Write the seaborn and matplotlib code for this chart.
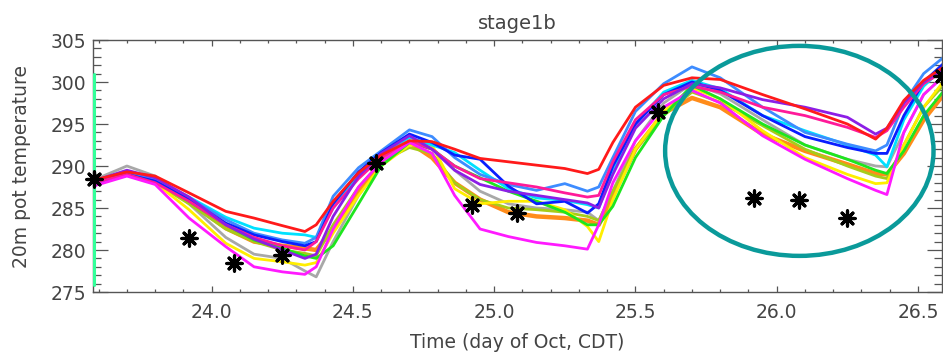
import numpy as np
import pandas as pd
import matplotlib
matplotlib.use("Agg")
import matplotlib.pyplot as plt
from matplotlib.patches import Ellipse
from matplotlib.ticker import MultipleLocator, FormatStrFormatter
from matplotlib.transforms import ScaledTranslation
import seaborn as sns

# ---------------- data ----------------
time = [23.58, 23.70, 23.80, 23.92, 24.05, 24.15, 24.25, 24.33, 24.37, 24.43,
        24.52, 24.60, 24.70, 24.78, 24.86, 24.95, 25.05, 25.15, 25.25, 25.33,
        25.37, 25.42, 25.50, 25.60, 25.70, 25.80, 25.95, 26.10, 26.25, 26.35,
        26.39, 26.45, 26.52, 26.60]

gray = [288.3, 290.0, 288.8, 285.5, 281.5, 279.5, 279.0, 277.5, 276.8, 281.0,
        286.5, 290.2, 293.0, 292.2, 289.5, 287.0, 285.5, 285.0, 284.8, 284.5,
        283.5, 287.0, 293.0, 297.5, 299.8, 298.6, 295.5, 292.5, 290.8, 290.0,
        289.9, 294.0, 298.5, 301.0]
orange = [287.8, 289.0, 288.0, 285.8, 282.6, 281.0, 280.5, 280.2, 280.0, 282.5,
          287.0, 290.5, 292.8, 291.0, 288.0, 286.0, 284.5, 284.0, 283.8, 283.5,
          283.0, 286.5, 292.0, 296.3, 298.1, 297.0, 293.8, 291.8, 290.2, 289.1,
          289.0, 291.5, 295.5, 298.9]
yellowgreen = [287.9, 289.0, 288.0, 285.5, 282.5, 281.0, 280.0, 279.6, 279.3, 283.0,
               287.5, 290.5, 292.2, 291.5, 288.0, 286.0, 285.0, 284.8, 284.5, 284.0,
               283.5, 287.0, 292.0, 296.0, 298.8, 297.6, 294.8, 292.0, 290.0, 288.8,
               288.5, 292.5, 297.0, 300.0]
yellow = [287.8, 289.1, 288.0, 284.8, 280.8, 279.0, 278.6, 278.2, 278.5, 282.0,
          286.5, 290.0, 292.5, 292.5, 287.3, 285.5, 285.8, 285.8, 284.8, 282.8,
          281.0, 286.0, 292.0, 296.5, 299.3, 298.0, 294.2, 291.0, 289.0, 287.9,
          288.0, 292.5, 297.0, 300.5]
green = [287.8, 289.0, 288.2, 285.8, 283.0, 281.2, 280.2, 279.3, 279.0, 280.5,
         285.5, 290.0, 292.8, 292.0, 290.0, 288.6, 287.0, 285.8, 284.5, 283.0,
         283.0, 285.2, 291.0, 296.0, 299.6, 298.0, 295.0, 292.5, 290.8, 289.5,
         289.1, 291.8, 296.0, 299.3]
cyan = [288.0, 289.2, 288.4, 286.3, 283.9, 282.6, 282.0, 281.8, 281.5, 285.0,
        289.0, 291.4, 293.4, 292.5, 291.6, 289.5, 287.3, 286.2, 285.9, 285.4,
        285.0, 289.5, 295.0, 298.8, 300.2, 299.2, 296.0, 294.2, 292.5, 291.3,
        289.9, 295.5, 299.5, 302.0]
dodgerblue = [288.0, 289.3, 288.4, 286.2, 283.6, 282.0, 281.2, 280.8, 281.5, 286.4,
              289.8, 291.8, 294.3, 293.5, 291.0, 289.0, 287.8, 287.1, 287.9, 287.0,
              287.5, 291.0, 296.5, 299.8, 301.8, 300.5, 297.0, 294.0, 292.6, 291.8,
              292.5, 297.5, 301.0, 303.2]
blue = [288.0, 289.0, 288.2, 286.0, 283.2, 281.8, 281.0, 280.5, 281.0, 285.5,
        289.3, 291.6, 293.8, 292.8, 291.3, 290.8, 287.6, 285.5, 285.8, 284.4,
        285.5, 290.0, 295.0, 298.5, 300.0, 299.0, 296.0, 293.5, 292.2, 291.5,
        291.5, 296.0, 300.0, 302.5]
deeppink = [288.0, 289.0, 288.0, 285.8, 283.0, 281.5, 280.5, 280.0, 281.0, 285.0,
            288.5, 291.0, 293.0, 292.0, 290.0, 288.5, 288.0, 287.5, 286.8, 286.3,
            286.5, 290.5, 295.5, 298.5, 299.5, 298.8, 297.0, 296.0, 294.6, 293.4,
            294.2, 297.0, 299.8, 301.5]
magenta = [287.6, 288.8, 287.8, 283.8, 280.4, 278.0, 277.4, 277.1, 278.0, 282.5,
           287.5, 290.5, 292.8, 291.5, 286.5, 282.5, 281.6, 280.9, 280.5, 280.1,
           283.0, 288.0, 293.0, 297.0, 299.0, 297.5, 293.6, 290.8, 288.5, 287.1,
           286.6, 294.0, 298.5, 301.0]
purple = [288.2, 289.5, 288.6, 286.3, 283.0, 281.3, 280.0, 279.0, 279.5, 284.0,
          288.8, 291.5, 293.6, 292.0, 289.5, 287.8, 287.0, 286.5, 286.0, 285.6,
          285.0, 289.0, 294.5, 298.0, 299.8, 299.3, 297.9, 297.0, 295.8, 293.8,
          294.5, 297.5, 300.0, 301.8]
red = [288.3, 289.3, 288.8, 286.8, 284.6, 283.8, 282.9, 282.2, 283.0, 285.8,
       289.2, 291.3, 293.0, 292.9, 292.0, 290.9, 290.5, 290.1, 289.7, 289.1,
       289.6, 292.8, 297.0, 299.6, 300.5, 300.3, 298.5, 296.8, 295.0, 293.2,
       294.5, 297.8, 300.2, 302.0]

members = {
    "gray": gray, "orange": orange, "yellowgreen": yellowgreen, "yellow": yellow,
    "green": green, "cyan": cyan, "dodgerblue": dodgerblue, "blue": blue,
    "deeppink": deeppink, "magenta": magenta, "purple": purple, "red": red,
}
member_colors = {
    "gray": "#a8a8a8", "orange": "#ff8c1a", "yellowgreen": "#a6cc1a", "yellow": "#ffee00",
    "green": "#1ee61e", "cyan": "#00e1ff", "dodgerblue": "#3d8cff", "blue": "#0a1eff",
    "deeppink": "#ff1a99", "magenta": "#ff1aff", "purple": "#8c1ee6", "red": "#ff1a1a",
}

# left-edge green trace
edge_t = [23.583, 23.583]
edge_y = [275.8, 301.0]

# observations
obs_t = [23.585, 23.92, 24.08, 24.25, 24.58, 24.92, 25.08, 25.58, 25.92, 26.08, 26.25, 26.585]
obs_y = [288.5, 281.4, 278.4, 279.4, 290.3, 285.3, 284.4, 296.4, 286.2, 285.9, 283.8, 300.7]

title = "stage1b"
xlabel = "Time (day of Oct, CDT)"
ylabel = "20m pot temperature"

# ---------------- plot ----------------
sns.set_theme(style="white")
plt.rcParams["font.family"] = ["DejaVu Sans"]
txt = "#444444"
fs = 13.5

fig = plt.figure(figsize=(9.43, 3.60), dpi=100)
ax = fig.add_axes([93 / 943, 68 / 360, 849 / 943, 252 / 360])

rows = []
for name, vals in members.items():
    for t, v in zip(time, vals):
        rows.append((name, t, v))
df = pd.DataFrame(rows, columns=["member", "time", "temp"])

for name in members:
    sub = df[df["member"] == name]
    sns.lineplot(data=sub, x="time", y="temp", ax=ax, color=member_colors[name],
                 lw=3.2 if name == "orange" else 2.0, legend=False, sort=False,
                 estimator=None)

sns.lineplot(x=edge_t, y=edge_y, ax=ax, color="#33ff99", lw=2.2, legend=False,
             estimator=None, sort=False, zorder=5)

sns.scatterplot(x=obs_t, y=obs_y, ax=ax, marker=(8, 2, 0), s=120, color="black",
                linewidth=2.3, zorder=10, clip_on=False)

ell = Ellipse((26.08, 291.8), width=0.95, height=25.0, fill=False,
              edgecolor="#0a9a9a", lw=3.2, zorder=12)
ax.add_patch(ell)

ax.set_xlim(23.58, 26.585)
ax.set_ylim(275, 305)
ax.xaxis.set_major_locator(MultipleLocator(0.5))
ax.xaxis.set_minor_locator(MultipleLocator(0.1))
ax.xaxis.set_major_formatter(FormatStrFormatter("%.1f"))
ax.yaxis.set_major_locator(MultipleLocator(5))
ax.yaxis.set_minor_locator(MultipleLocator(1))

ax.tick_params(axis="x", which="major", direction="in", length=4.5, width=0.9,
               top=True, bottom=True, colors="#555555", labelcolor=txt,
               labelsize=fs, pad=8)
ax.tick_params(axis="x", which="minor", direction="in", length=2.5, width=0.9,
               top=True, bottom=True, colors="#555555")
ax.tick_params(axis="y", which="major", direction="in", length=11, width=0.9,
               left=True, right=True, colors="#555555", labelcolor=txt,
               labelsize=fs, pad=5)
ax.tick_params(axis="y", which="minor", direction="in", length=5.5, width=0.9,
               left=True, right=True, colors="#555555")

for s in ax.spines.values():
    s.set_color("#555555")
    s.set_linewidth(1.0)

ax.set_xlabel(xlabel, fontsize=fs, color=txt, labelpad=8)
ax.set_ylabel(ylabel, fontsize=fs, color=txt, labelpad=14)
ax.set_title(title, fontsize=fs + 0.5, color=txt, pad=8)

fig.canvas.draw()
ylabs = ax.get_yticklabels()
if ylabs:
    ylabs[-1].set_transform(ylabs[-1].get_transform() + ScaledTranslation(0, -5 / 72, fig.dpi_scale_trans))
    ylabs[0].set_transform(ylabs[0].get_transform() + ScaledTranslation(0, 4 / 72, fig.dpi_scale_trans))

fig.savefig("out.png", dpi=100)
